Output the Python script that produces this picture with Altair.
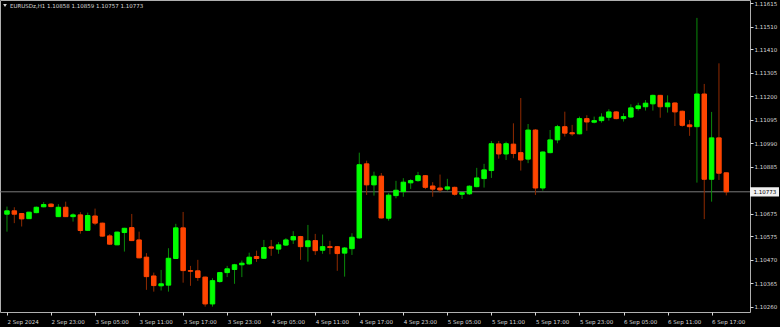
import json
import altair as alt
import pandas as pd

# ---- data (EURUSDz, H1, 2 Sep 17:00 .. 6 Sep 19:00) ----
opens = [1.10673, 1.10688, 1.10676, 1.10653, 1.10680, 1.10706, 1.10718, 1.10662, 1.10704, 1.10662,
         1.10670, 1.10601, 1.10665, 1.10633, 1.10576, 1.10536, 1.10591, 1.10613, 1.10558, 1.10481,
         1.10397, 1.10353, 1.10356, 1.10475, 1.10612, 1.10421, 1.10420, 1.10392, 1.10272, 1.10372,
         1.10412, 1.10426, 1.10447, 1.10451, 1.10484, 1.10476, 1.10527, 1.10517, 1.10535, 1.10558,
         1.10573, 1.10528, 1.10555, 1.10512, 1.10528, 1.10528, 1.10499, 1.10519, 1.10567, 1.10898,
         1.10804, 1.10843, 1.10655, 1.10756, 1.10774, 1.10813, 1.10823, 1.10845, 1.10799, 1.10790,
         1.10785, 1.10793, 1.10762, 1.10764, 1.10796, 1.10832, 1.10868, 1.10987, 1.10942, 1.10986,
         1.10948, 1.10919, 1.11049, 1.10790, 1.10948, 1.11005, 1.11064, 1.11037, 1.11032, 1.11100,
         1.11084, 1.11091, 1.11106, 1.11130, 1.11100, 1.11107, 1.11145, 1.11153, 1.11166, 1.11204,
         1.11153, 1.11170, 1.11133, 1.11072, 1.11064, 1.11210, 1.10829, 1.11014, 1.10858]
highs = [1.10707, 1.10704, 1.10677, 1.10683, 1.10707, 1.10727, 1.10722, 1.10718, 1.10729, 1.10677,
         1.10682, 1.10680, 1.10698, 1.10635, 1.10584, 1.10595, 1.10612, 1.10674, 1.10595, 1.10499,
         1.10412, 1.10424, 1.10521, 1.10630, 1.10683, 1.10442, 1.10469, 1.10394, 1.10387, 1.10415,
         1.10442, 1.10451, 1.10466, 1.10501, 1.10510, 1.10558, 1.10558, 1.10548, 1.10566, 1.10597,
         1.10576, 1.10625, 1.10585, 1.10582, 1.10554, 1.10531, 1.10526, 1.10588, 1.10948, 1.10912,
         1.10863, 1.10857, 1.10767, 1.10822, 1.10834, 1.10829, 1.10862, 1.10848, 1.10816, 1.10850,
         1.10831, 1.10796, 1.10772, 1.10802, 1.10880, 1.10898, 1.11000, 1.11000, 1.10997, 1.11079,
         1.11192, 1.11076, 1.11053, 1.10953, 1.11049, 1.11072, 1.11131, 1.11072, 1.11109, 1.11115,
         1.11109, 1.11124, 1.11142, 1.11134, 1.11124, 1.11164, 1.11171, 1.11183, 1.11207, 1.11206,
         1.11204, 1.11172, 1.11136, 1.11094, 1.11550, 1.11255, 1.11130, 1.11347, 1.10859]
lows = [1.10595, 1.10633, 1.10618, 1.10652, 1.10677, 1.10704, 1.10704, 1.10661, 1.10661, 1.10640,
        1.10586, 1.10598, 1.10624, 1.10573, 1.10536, 1.10535, 1.10506, 1.10553, 1.10476, 1.10335,
        1.10327, 1.10332, 1.10327, 1.10473, 1.10367, 1.10353, 1.10375, 1.10260, 1.10260, 1.10367,
        1.10392, 1.10362, 1.10392, 1.10447, 1.10460, 1.10473, 1.10487, 1.10496, 1.10531, 1.10540,
        1.10469, 1.10461, 1.10491, 1.10496, 1.10494, 1.10420, 1.10394, 1.10491, 1.10564, 1.10759,
        1.10756, 1.10654, 1.10644, 1.10744, 1.10751, 1.10786, 1.10818, 1.10785, 1.10751, 1.10769,
        1.10778, 1.10756, 1.10741, 1.10759, 1.10793, 1.10792, 1.10835, 1.10921, 1.10915, 1.10923,
        1.10868, 1.10901, 1.10759, 1.10778, 1.10945, 1.10990, 1.11020, 1.11023, 1.11030, 1.11046,
        1.11079, 1.11082, 1.11091, 1.11097, 1.11087, 1.11104, 1.11136, 1.11136, 1.11136, 1.11104,
        1.11127, 1.11067, 1.11064, 1.11023, 1.10814, 1.10651, 1.10729, 1.10826, 1.10757]
closes = [1.10688, 1.10673, 1.10652, 1.10682, 1.10704, 1.10716, 1.10707, 1.10704, 1.10662, 1.10670,
          1.10600, 1.10667, 1.10633, 1.10575, 1.10539, 1.10593, 1.10610, 1.10555, 1.10478, 1.10394,
          1.10354, 1.10362, 1.10476, 1.10612, 1.10421, 1.10418, 1.10390, 1.10272, 1.10376, 1.10412,
          1.10429, 1.10447, 1.10454, 1.10481, 1.10475, 1.10524, 1.10521, 1.10536, 1.10558, 1.10573,
          1.10528, 1.10554, 1.10510, 1.10528, 1.10524, 1.10497, 1.10522, 1.10570, 1.10894, 1.10804,
          1.10843, 1.10656, 1.10758, 1.10780, 1.10816, 1.10823, 1.10845, 1.10793, 1.10785, 1.10781,
          1.10795, 1.10762, 1.10769, 1.10798, 1.10835, 1.10871, 1.10988, 1.10942, 1.10988, 1.10944,
          1.10915, 1.11049, 1.10790, 1.10951, 1.11005, 1.11064, 1.11035, 1.11032, 1.11100, 1.11085,
          1.11091, 1.11107, 1.11130, 1.11100, 1.11109, 1.11148, 1.11157, 1.11169, 1.11204, 1.11153,
          1.11170, 1.11130, 1.11070, 1.11064, 1.11210, 1.10829, 1.11014, 1.10856, 1.10773]

x_tick_bars = [0, 6, 12, 18, 24, 30, 36, 42, 48, 54, 60, 66, 72, 78, 84, 90, 96]
x_tick_labels = ["2 Sep 2024", "2 Sep 23:00", "3 Sep 05:00", "3 Sep 11:00", "3 Sep 17:00",
                 "3 Sep 23:00", "4 Sep 05:00", "4 Sep 11:00", "4 Sep 17:00", "4 Sep 23:00",
                 "5 Sep 05:00", "5 Sep 11:00", "5 Sep 17:00", "5 Sep 23:00", "6 Sep 05:00",
                 "6 Sep 11:00", "6 Sep 17:00"]
y_tick_values = [1.11615, 1.11510, 1.11410, 1.11305, 1.11200, 1.11095, 1.10990, 1.10885,
                 1.10675, 1.10575, 1.10470, 1.10365, 1.10260]
symbol_name = "EURUSDz,H1"
last_price = 1.10773

# ---- styling ----
UP = "#00ff00"
DOWN = "#ff4500"
UP_WICK = "#0a8a0a"
DOWN_WICK = "#8f2a00"
FG = "#d8d8d8"
FONT = "DejaVu Sans"
FS = 5.5

df = pd.DataFrame({"i": list(range(len(opens))), "open": opens, "high": highs,
                   "low": lows, "close": closes})

is_up = alt.datum.close >= alt.datum.open

xscale = alt.Scale(domain=[-0.27, 100.55], nice=False, zero=False)
yscale = alt.Scale(domain=[1.10236, 1.11630], nice=False, zero=False)

label_expr = f"{json.dumps(x_tick_labels)}[indexof({json.dumps(x_tick_bars)}, datum.value)]"

x_axis = alt.Axis(values=x_tick_bars, labelExpr=label_expr, title=None, grid=False,
                  domain=False, tickSize=3, tickColor=FG, labelAlign="left",
                  labelBaseline="alphabetic", labelPadding=8.5, labelFontSize=FS,
                  labelFont=FONT, labelColor=FG, labelOverlap=False, labelFlush=False)
y_axis = alt.Axis(values=y_tick_values, format=".5f", title=None, grid=False, orient="right",
                  domain=False, tickSize=3, tickColor=FG, labelAlign="left",
                  labelBaseline="middle", labelPadding=1, labelFontSize=FS, labelFont=FONT,
                  labelColor=FG, labelOverlap=False, labelFlush=False, labelBound=False)

base = alt.Chart(df)

wicks = base.mark_rule(strokeWidth=1).encode(
    x=alt.X("i:Q", scale=xscale, axis=x_axis),
    y=alt.Y("low:Q", scale=yscale, axis=y_axis),
    y2="high:Q",
    color=alt.condition(is_up, alt.value(UP_WICK), alt.value(DOWN_WICK)),
)

bodies = base.mark_bar(size=4.5, strokeWidth=1).encode(
    x=alt.X("i:Q", scale=xscale, axis=x_axis),
    y=alt.Y("open:Q", scale=yscale, axis=y_axis),
    y2="close:Q",
    fill=alt.condition(is_up, alt.value(UP), alt.value(DOWN)),
    stroke=alt.condition(is_up, alt.value(UP), alt.value(DOWN)),
)

price_df = pd.DataFrame({"price": [last_price], "label": [f"{last_price:.5f}"]})
price_line = alt.Chart(price_df).mark_rule(color="#7a7a7a", strokeWidth=1).encode(
    y=alt.Y("price:Q", scale=yscale, axis=y_axis)
)
price_box = alt.Chart(price_df).mark_point(
    shape="M-1,-0.27L1,-0.27L1,0.27L-1,0.27Z", size=729, filled=True, fill="#f0f0f0",
    stroke="#f0f0f0", opacity=1,
).encode(x=alt.value(764.5), y=alt.Y("price:Q", scale=yscale, axis=y_axis))
price_text = alt.Chart(price_df).mark_text(
    align="left", baseline="middle", font=FONT, fontSize=FS, color="#000000"
).encode(x=alt.value(753.5), y=alt.Y("price:Q", scale=yscale, axis=y_axis), text="label:N")

last = len(opens) - 1
header = f"{symbol_name}  {opens[last]:.5f} {highs[last]:.5f} {lows[last]:.5f} {closes[last]:.5f}"
head_df = pd.DataFrame({"t": [header]})
header_text = alt.Chart(head_df).mark_text(
    align="left", baseline="middle", font=FONT, fontSize=FS, color=FG
).encode(x=alt.value(10), y=alt.value(5.5), text="t:N")
header_tri = alt.Chart(head_df).mark_point(
    shape="triangle-down", filled=True, size=14, color=FG, opacity=1
).encode(x=alt.value(5), y=alt.value(5.5))

chart = alt.layer(
    price_line, wicks, bodies, price_box, price_text, header_tri, header_text
).properties(
    width=750, height=312,
    autosize=alt.AutoSizeParams(type="none"),
    padding={"left": 0, "top": 0, "right": 30, "bottom": 15},
    background="#000000",
).configure_view(
    stroke="#b0b0b0", strokeWidth=1, fill="#000000"
).configure_axis(
    labelOverlap=False
)

chart.save("out.html", embed_options={"renderer": "svg", "actions": False})
